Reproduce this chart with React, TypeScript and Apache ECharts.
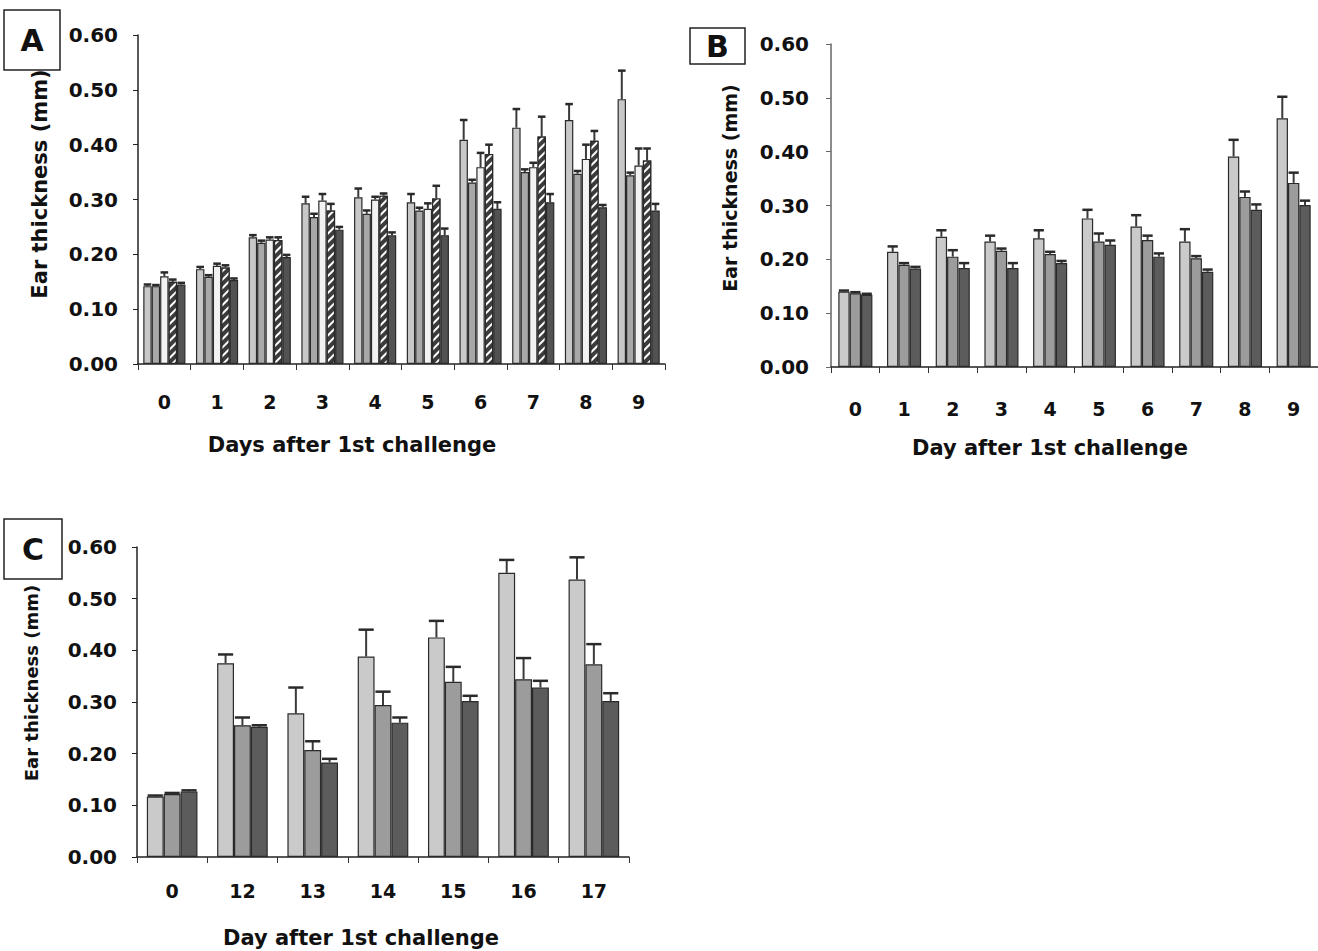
import React, { useEffect, useRef } from "react";
import * as echarts from "echarts";

// Panel A (5 groups)
const daysA = ["0", "1", "2", "3", "4", "5", "6", "7", "8", "9"];
const a1 = [0.142, 0.173, 0.231, 0.293, 0.304, 0.295, 0.409, 0.431, 0.445, 0.483];
const a2 = [0.142, 0.159, 0.221, 0.268, 0.274, 0.280, 0.331, 0.350, 0.347, 0.344];
const a3 = [0.160, 0.179, 0.227, 0.298, 0.300, 0.283, 0.359, 0.359, 0.374, 0.362];
const a4 = [0.150, 0.176, 0.226, 0.280, 0.307, 0.302, 0.383, 0.415, 0.407, 0.371];
const a5 = [0.145, 0.153, 0.195, 0.245, 0.235, 0.235, 0.283, 0.295, 0.286, 0.280];
const ea1 = [0.003, 0.004, 0.004, 0.012, 0.016, 0.015, 0.036, 0.034, 0.029, 0.052];
const ea2 = [0.002, 0.003, 0.004, 0.006, 0.006, 0.005, 0.005, 0.005, 0.005, 0.005];
const ea3 = [0.007, 0.004, 0.004, 0.012, 0.005, 0.010, 0.026, 0.008, 0.026, 0.031];
const ea4 = [0.004, 0.004, 0.005, 0.012, 0.004, 0.023, 0.017, 0.036, 0.018, 0.022];
const ea5 = [0.003, 0.003, 0.004, 0.005, 0.005, 0.012, 0.012, 0.015, 0.004, 0.012];

// Panel B (3 groups)
const daysB = ["0", "1", "2", "3", "4", "5", "6", "7", "8", "9"];
const b1 = [0.140, 0.214, 0.242, 0.233, 0.239, 0.276, 0.261, 0.233, 0.391, 0.462];
const b2 = [0.137, 0.190, 0.205, 0.216, 0.210, 0.233, 0.236, 0.202, 0.316, 0.342];
const b3 = [0.134, 0.183, 0.184, 0.184, 0.193, 0.227, 0.205, 0.177, 0.292, 0.301];
const eb1 = [0.002, 0.010, 0.012, 0.011, 0.015, 0.016, 0.021, 0.023, 0.031, 0.040];
const eb2 = [0.002, 0.003, 0.012, 0.004, 0.004, 0.015, 0.008, 0.004, 0.010, 0.019];
const eb3 = [0.002, 0.003, 0.009, 0.009, 0.004, 0.008, 0.006, 0.004, 0.010, 0.008];

// Panel C (3 groups)
const daysC = ["0", "12", "13", "14", "15", "16", "17"];
const c1 = [0.117, 0.375, 0.278, 0.388, 0.425, 0.550, 0.537];
const c2 = [0.122, 0.255, 0.207, 0.294, 0.339, 0.344, 0.373];
const c3 = [0.127, 0.252, 0.183, 0.260, 0.302, 0.328, 0.302];
const ec1 = [0.002, 0.017, 0.050, 0.052, 0.032, 0.025, 0.043];
const ec2 = [0.002, 0.015, 0.017, 0.026, 0.029, 0.041, 0.039];
const ec3 = [0.002, 0.003, 0.007, 0.010, 0.010, 0.013, 0.015];

const yTicks = [0, 0.1, 0.2, 0.3, 0.4, 0.5, 0.6];
const yTitle = "Ear thickness (mm)";

const FONT = "DejaVu Sans";
const BORDER = "#2a2a2a";

function errData(means: number[][], errs: number[][]) {
  const out: number[][] = [];
  means.forEach((m, s) => {
    m.forEach((v, i) => out.push([i, v, v + errs[s][i], s]));
  });
  return out;
}

function errSeries(idx: number, n: number, gap: number, data: number[][]) {
  return {
    type: "custom",
    xAxisIndex: idx,
    yAxisIndex: idx,
    z: 1,
    encode: { x: 0, y: [1, 2] },
    data,
    renderItem: (params: any, api: any) => {
      const cat = api.value(0);
      const v = api.value(1);
      const top = api.value(2);
      const s = api.value(3);
      const base = api.coord([cat, v]);
      const tp = api.coord([cat, top]);
      const band = api.size([1, 0])[0];
      const w = (band * (1 - gap)) / n;
      const cx = base[0] - (band * (1 - gap)) / 2 + w * (s + 0.5);
      const capW = w * 0.9;
      return {
        type: "group",
        children: [
          {
            type: "line",
            shape: { x1: cx, y1: base[1], x2: cx, y2: tp[1] },
            style: { stroke: "#3a3a3a", lineWidth: 2 },
          },
          {
            type: "line",
            shape: { x1: cx - capW / 2, y1: tp[1], x2: cx + capW / 2, y2: tp[1] },
            style: { stroke: "#2a2a2a", lineWidth: 2.5 },
          },
        ],
      };
    },
  };
}

function barSeries(idx: number, data: number[], color: string, gap: string, extra: any = {}) {
  return {
    type: "bar",
    xAxisIndex: idx,
    yAxisIndex: idx,
    data,
    barGap: "0%",
    barCategoryGap: gap,
    z: 2,
    itemStyle: { color, borderColor: BORDER, borderWidth: 1.2, ...extra },
  };
}

function xAxis(idx: number, data: string[], margin: number) {
  return {
    type: "category",
    gridIndex: idx,
    data,
    axisLine: { show: true, lineStyle: { color: "#222", width: 1.5 } },
    axisTick: { show: true, length: 6, lineStyle: { color: "#333" } },
    axisLabel: {
      margin,
      fontFamily: FONT,
      fontWeight: "bold",
      fontSize: 19,
      color: "#111",
    },
  };
}

function yAxis(idx: number, color: string, margin: number) {
  return {
    type: "value",
    gridIndex: idx,
    min: 0,
    max: 0.6,
    interval: 0.1,
    splitLine: { show: false },
    axisLine: { show: true, lineStyle: { color, width: 1.5 } },
    axisTick: { show: true, length: 5, lineStyle: { color } },
    axisLabel: {
      margin,
      fontFamily: FONT,
      fontWeight: "bold",
      fontSize: 20,
      color: "#111",
      formatter: (v: number) => (yTicks.some((t) => Math.abs(t - v) < 1e-9) ? v.toFixed(2) : ""),
    },
  };
}

function boxLabel(x: number, y: number, w: number, h: number, letter: string) {
  return {
    type: "group",
    z: 100,
    children: [
      {
        type: "rect",
        shape: { x, y, width: w, height: h },
        style: { fill: "#fff", stroke: "#222", lineWidth: 1.5 },
        z: 100,
      },
      {
        type: "text",
        x: x + w / 2,
        y: y + h / 2,
        z: 101,
        style: {
          text: letter,
          fontFamily: FONT,
          fontWeight: "bold",
          fontSize: 30,
          fill: "#111",
          align: "center",
          verticalAlign: "middle",
        },
      },
    ],
  };
}

function title(x: number, y: number, text: string, rot: number, size: number) {
  return {
    type: "text",
    x,
    y,
    rotation: rot,
    z: 50,
    style: {
      text,
      fontFamily: FONT,
      fontWeight: "bold",
      fontSize: size,
      fill: "#111",
      align: "center",
      verticalAlign: "middle",
    },
  };
}

export default function App() {
  const ref = useRef<HTMLDivElement>(null);
  useEffect(() => {
    if (!ref.current) return;
    const chart = echarts.init(ref.current, undefined, { renderer: "svg" });
    const gA = 0.2;
    const gB = 0.3;
    const gC = 0.28;
    const hatch = {
      decal: {
        symbol: "rect",
        color: "#ffffff",
        dashArrayX: [1, 0],
        dashArrayY: [2, 4],
        rotation: -Math.PI / 4,
      },
    };
    chart.setOption({
      animation: false,
      backgroundColor: "#ffffff",
      grid: [
        { left: 138, top: 35, width: 527, height: 329 },
        { left: 831, top: 44, width: 487, height: 323 },
        { left: 137, top: 547, width: 492, height: 310 },
      ],
      xAxis: [xAxis(0, daysA, 28), xAxis(1, daysB, 32), xAxis(2, daysC, 24)],
      yAxis: [yAxis(0, "#222", 20), yAxis(1, "#666", 22), yAxis(2, "#222", 20)],
      series: [
        barSeries(0, a1, "#c8c8c8", "20%"),
        barSeries(0, a2, "#a8a8a8", "20%"),
        barSeries(0, a3, "#f2f2f2", "20%"),
        barSeries(0, a4, "#3c3c3c", "20%", hatch),
        barSeries(0, a5, "#525252", "20%"),
        errSeries(0, 5, gA, errData([a1, a2, a3, a4, a5], [ea1, ea2, ea3, ea4, ea5])),
        barSeries(1, b1, "#cacaca", "30%"),
        barSeries(1, b2, "#9c9c9c", "30%"),
        barSeries(1, b3, "#5c5c5c", "30%"),
        errSeries(1, 3, gB, errData([b1, b2, b3], [eb1, eb2, eb3])),
        barSeries(2, c1, "#cacaca", "28%"),
        barSeries(2, c2, "#9c9c9c", "28%"),
        barSeries(2, c3, "#5c5c5c", "28%"),
        errSeries(2, 3, gC, errData([c1, c2, c3], [ec1, ec2, ec3])),
      ],
      graphic: [
        title(40, 184, yTitle, Math.PI / 2, 21),
        title(730, 188, yTitle, Math.PI / 2, 19),
        title(31, 683, yTitle, Math.PI / 2, 18),
        title(352, 445, "Days after 1st challenge", 0, 21),
        title(1050, 448, "Day after 1st challenge", 0, 21),
        title(361, 938, "Day after 1st challenge", 0, 21),
        boxLabel(4, 10, 56, 60, "A"),
        boxLabel(690, 28, 55, 36, "B"),
        boxLabel(4, 519, 58, 60, "C"),
      ],
    });
    return () => chart.dispose();
  }, []);
  return (
    <div
      ref={ref}
      style={{ position: "absolute", left: 0, top: 0, width: 1318, height: 951, background: "#fff" }}
    />
  );
}
